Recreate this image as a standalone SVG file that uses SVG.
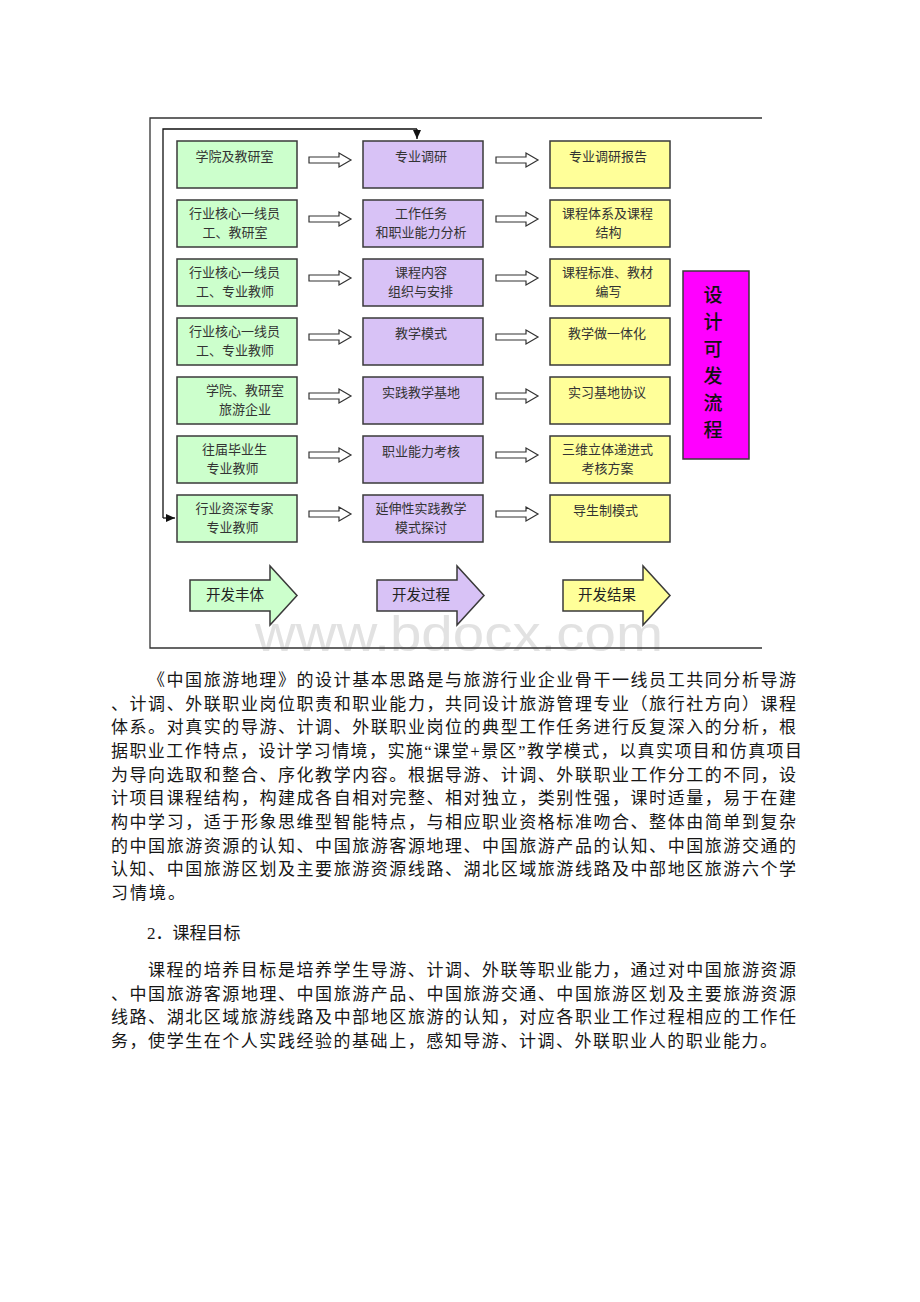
<svg xmlns="http://www.w3.org/2000/svg" xmlns:xlink="http://www.w3.org/1999/xlink" width="920" height="1302" viewBox="0 0 920 1302">
<style>
.g{fill:#ccffcc;stroke:#3a3a3a;stroke-width:1.5}
.p{fill:#d8c2f6;stroke:#3a3a3a;stroke-width:1.5}
.y{fill:#ffff99;stroke:#3a3a3a;stroke-width:1.5}
.bt{font-family:"Liberation Sans","Noto Sans CJK SC",sans-serif;font-size:13px;fill:#333;text-anchor:middle}
.big{font-family:"Liberation Sans","Noto Sans CJK SC",sans-serif;font-size:14.5px;fill:#222;text-anchor:middle}
.mg{font-family:"Noto Sans CJK SC",sans-serif;font-size:19px;fill:#111;text-anchor:middle;font-weight:500}
.para{font-family:"Liberation Serif","Noto Sans CJK SC",serif;font-size:17px;fill:#161616}
.frame{fill:none;stroke:#333;stroke-width:1.3}
.fb{fill:none;stroke:#111;stroke-width:1.3}
.ha{fill:#fff;stroke:#333;stroke-width:1.2}
.wm{font-family:"Liberation Sans",sans-serif;font-size:50px;fill:#e2e2e2}
</style>
<defs>
<path id="hollow" d="M0,-3 H30 V-7 L42,0 L30,7 V3 H0 Z"/>
<marker id="ah" markerWidth="10" markerHeight="10" refX="9" refY="5" orient="auto" markerUnits="userSpaceOnUse">
<path d="M0,1 L9,5 L0,9 Z" fill="#111"/>
</marker>
</defs>
<rect x="0" y="0" width="920" height="1302" fill="#fff"/>
<text class="wm" x="255" y="651" textLength="408" lengthAdjust="spacingAndGlyphs">www.bdocx.com</text>
<g id="frame">
<path class="frame" d="M762,118 H150 V648 H762"/>
</g>
<g id="connectors">
<path class="fb" d="M417,129 V139" marker-end="url(#ah)"/>
<path class="fb" d="M163,518 V129 H417"/>
<path class="fb" d="M163,518 H175" marker-end="url(#ah)"/>
<g class="ha">
<use xlink:href="#hollow" x="309" y="160"/>
<use xlink:href="#hollow" x="309" y="219"/>
<use xlink:href="#hollow" x="309" y="278"/>
<use xlink:href="#hollow" x="309" y="337"/>
<use xlink:href="#hollow" x="309" y="396"/>
<use xlink:href="#hollow" x="309" y="455"/>
<use xlink:href="#hollow" x="309" y="514"/>
<use xlink:href="#hollow" x="496" y="160"/>
<use xlink:href="#hollow" x="496" y="219"/>
<use xlink:href="#hollow" x="496" y="278"/>
<use xlink:href="#hollow" x="496" y="337"/>
<use xlink:href="#hollow" x="496" y="396"/>
<use xlink:href="#hollow" x="496" y="455"/>
<use xlink:href="#hollow" x="496" y="514"/>
</g>
</g>
<g id="g1"><rect class="g" x="177" y="141" width="120" height="47"/><text class="bt" x="234.5" y="161">学院及教研室</text></g>
<g id="g2"><rect class="g" x="177" y="200" width="120" height="47"/><text class="bt" x="234.5" y="218">行业核心一线员</text><text class="bt" x="235" y="237">工、教研室</text></g>
<g id="g3"><rect class="g" x="177" y="259" width="120" height="47"/><text class="bt" x="234.5" y="277">行业核心一线员</text><text class="bt" x="235" y="296">工、专业教师</text></g>
<g id="g4"><rect class="g" x="177" y="318" width="120" height="47"/><text class="bt" x="234.5" y="336">行业核心一线员</text><text class="bt" x="235" y="355">工、专业教师</text></g>
<g id="g5"><rect class="g" x="177" y="377" width="120" height="47"/><text class="bt" x="245" y="395">学院、教研室</text><text class="bt" x="245" y="414">旅游企业</text></g>
<g id="g6"><rect class="g" x="177" y="436" width="120" height="47"/><text class="bt" x="234.5" y="454">往届毕业生</text><text class="bt" x="232.5" y="473">专业教师</text></g>
<g id="g7"><rect class="g" x="177" y="495" width="120" height="47"/><text class="bt" x="234.5" y="513">行业资深专家</text><text class="bt" x="232.5" y="532">专业教师</text></g>
<g id="p1"><rect class="p" x="363" y="141" width="120" height="47"/><text class="bt" x="421" y="161">专业调研</text></g>
<g id="p2"><rect class="p" x="363" y="200" width="120" height="47"/><text class="bt" x="421" y="218">工作任务</text><text class="bt" x="421" y="237">和职业能力分析</text></g>
<g id="p3"><rect class="p" x="363" y="259" width="120" height="47"/><text class="bt" x="421" y="277">课程内容</text><text class="bt" x="420.5" y="296">组织与安排</text></g>
<g id="p4"><rect class="p" x="363" y="318" width="120" height="47"/><text class="bt" x="421" y="338">教学模式</text></g>
<g id="p5"><rect class="p" x="363" y="377" width="120" height="47"/><text class="bt" x="421" y="397">实践教学基地</text></g>
<g id="p6"><rect class="p" x="363" y="436" width="120" height="47"/><text class="bt" x="421" y="456">职业能力考核</text></g>
<g id="p7"><rect class="p" x="363" y="495" width="120" height="47"/><text class="bt" x="421" y="513">延伸性实践教学</text><text class="bt" x="421" y="532">模式探讨</text></g>
<g id="y1"><rect class="y" x="550" y="141" width="120" height="47"/><text class="bt" x="608" y="161">专业调研报告</text></g>
<g id="y2"><rect class="y" x="550" y="200" width="120" height="47"/><text class="bt" x="607.5" y="218">课程体系及课程</text><text class="bt" x="608.5" y="237">结构</text></g>
<g id="y3"><rect class="y" x="550" y="259" width="120" height="47"/><text class="bt" x="607.5" y="277">课程标准、教材</text><text class="bt" x="608.5" y="296">编写</text></g>
<g id="y4"><rect class="y" x="550" y="318" width="120" height="47"/><text class="bt" x="607" y="338">教学做一体化</text></g>
<g id="y5"><rect class="y" x="550" y="377" width="120" height="47"/><text class="bt" x="607" y="397">实习基地协议</text></g>
<g id="y6"><rect class="y" x="550" y="436" width="120" height="47"/><text class="bt" x="607.5" y="454">三维立体递进式</text><text class="bt" x="607.5" y="473">考核方案</text></g>
<g id="y7"><rect class="y" x="550" y="495" width="120" height="47"/><text class="bt" x="605.5" y="515">导生制模式</text></g>
<g id="flow">
<rect x="683" y="271" width="66" height="188" fill="#ff00ff" stroke="#3a3a3a" stroke-width="1.5"/>
<text class="mg" x="713" y="302">设</text>
<text class="mg" x="713" y="329">计</text>
<text class="mg" x="713" y="356">可</text>
<text class="mg" x="713" y="383">发</text>
<text class="mg" x="713" y="410">流</text>
<text class="mg" x="713" y="437">程</text>
</g>
<g id="a-subject"><path class="g" d="M190,580 H270 V566 L297,595.5 L270,625 V611 H190 Z"/><text class="big" x="235" y="600">开发丰体</text></g>
<g id="a-process"><path class="p" d="M377,580 H457 V566 L484,595.5 L457,625 V611 H377 Z"/><text class="big" x="421" y="600">开发过程</text></g>
<g id="a-result"><path class="y" d="M563,580 H643 V566 L670,595.5 L643,625 V611 H563 Z"/><text class="big" x="607" y="600">开发结果</text></g>
<g id="text">
<text class="para" x="148" y="686" textLength="648" lengthAdjust="spacing">《中国旅游地理》的设计基本思路是与旅游行业企业骨干一线员工共同分析导游</text>
<text class="para" x="111" y="710" textLength="685" lengthAdjust="spacing">、计调、外联职业岗位职责和职业能力，共同设计旅游管理专业（旅行社方向）课程</text>
<text class="para" x="111" y="733" textLength="685" lengthAdjust="spacing">体系。对真实的导游、计调、外联职业岗位的典型工作任务进行反复深入的分析，根</text>
<text class="para" x="111" y="757" textLength="691" lengthAdjust="spacing">据职业工作特点，设计学习情境，实施“课堂+景区”教学模式，以真实项目和仿真项目</text>
<text class="para" x="111" y="781" textLength="685" lengthAdjust="spacing">为导向选取和整合、序化教学内容。根据导游、计调、外联职业工作分工的不同，设</text>
<text class="para" x="111" y="804" textLength="685" lengthAdjust="spacing">计项目课程结构，构建成各自相对完整、相对独立，类别性强，课时适量，易于在建</text>
<text class="para" x="111" y="828" textLength="685" lengthAdjust="spacing">构中学习，适于形象思维型智能特点，与相应职业资格标准吻合、整体由简单到复杂</text>
<text class="para" x="111" y="852" textLength="685" lengthAdjust="spacing">的中国旅游资源的认知、中国旅游客源地理、中国旅游产品的认知、中国旅游交通的</text>
<text class="para" x="111" y="875" textLength="685" lengthAdjust="spacing">认知、中国旅游区划及主要旅游资源线路、湖北区域旅游线路及中部地区旅游六个学</text>
<text class="para" x="111" y="899" textLength="74" lengthAdjust="spacing">习情境。</text>
<text class="para" x="147" y="939">2．课程目标</text>
<text class="para" x="148" y="976" textLength="648" lengthAdjust="spacing">课程的培养目标是培养学生导游、计调、外联等职业能力，通过对中国旅游资源</text>
<text class="para" x="111" y="1000" textLength="685" lengthAdjust="spacing">、中国旅游客源地理、中国旅游产品、中国旅游交通、中国旅游区划及主要旅游资源</text>
<text class="para" x="111" y="1023" textLength="685" lengthAdjust="spacing">线路、湖北区域旅游线路及中部地区旅游的认知，对应各职业工作过程相应的工作任</text>
<text class="para" x="111" y="1047" textLength="666" lengthAdjust="spacing">务，使学生在个人实践经验的基础上，感知导游、计调、外联职业人的职业能力。</text>
</g>
</svg>
